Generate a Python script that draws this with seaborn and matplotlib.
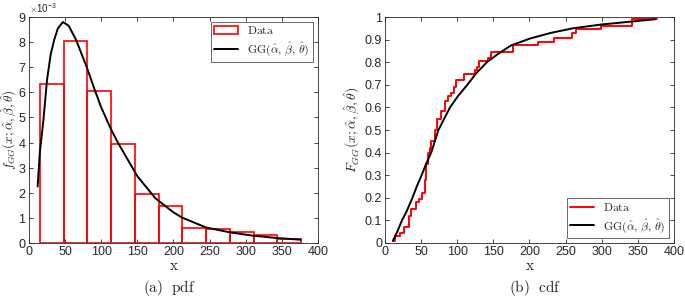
import numpy as np
import matplotlib
matplotlib.use('Agg')
import matplotlib.pyplot as plt
import seaborn as sns

# Histogram (pdf panel): bin edges and density heights (x 1e-3)
bin_edges = [15.1, 48.0, 80.8, 113.7, 146.6, 179.5, 212.3, 245.2, 278.1, 311.0, 343.8, 376.7]
bin_heights = [6.35, 8.04, 6.07, 3.93, 1.95, 1.49, 0.60, 0.55, 0.42, 0.31, 0.16]

# Fitted GG pdf curve (x 1e-3)
pdf_x = [12, 15, 20, 25, 30, 35, 40, 47, 55, 65, 80, 91, 100, 114, 124, 150,
         175, 200, 212, 245, 277, 310, 343, 376]
pdf_y = [2.25, 3.6, 4.9, 6.5, 7.5, 8.1, 8.55, 8.8, 8.65, 8.1, 7.0, 6.1, 5.4, 4.5,
         3.95, 2.66, 1.78, 1.22, 1.01, 0.62, 0.43, 0.29, 0.20, 0.13]

# Empirical cdf (step points)
ecdf_x = [11.5, 13.8, 20.6, 26.6, 33.0, 36.7, 43.6, 46.8, 51.4, 55.0, 57.0, 59.6,
          62.0, 63.5, 68.8, 72.5, 77.0, 82.6, 87.0, 91.7, 95.4, 98.6, 110.0, 124.0,
          127.5, 130.7, 143.0, 146.8, 176.6, 212.0, 234.0, 259.0, 263.8, 299.0,
          342.0, 376.0]
ecdf_y = [0.01, 0.03, 0.045, 0.07, 0.12, 0.15, 0.18, 0.195, 0.22, 0.28, 0.35, 0.40,
          0.42, 0.45, 0.50, 0.55, 0.585, 0.63, 0.65, 0.665, 0.69, 0.72, 0.75, 0.765,
          0.78, 0.805, 0.82, 0.845, 0.875, 0.89, 0.905, 0.93, 0.945, 0.96,
          0.99, 0.99]

# Fitted GG cdf curve
cdf_x = [11, 17, 23.5, 30, 38, 44, 50.7, 57, 64, 69, 74, 82, 90, 101, 114, 126,
         141, 158, 175, 201, 230, 260, 300, 342, 374]
cdf_y = [0.01, 0.05, 0.10, 0.14, 0.20, 0.25, 0.30, 0.35, 0.40, 0.45, 0.50, 0.55,
         0.60, 0.65, 0.70, 0.75, 0.80, 0.84, 0.875, 0.905, 0.93, 0.95, 0.967, 0.98, 0.99]

sns.set_theme(style='ticks')
plt.rcParams['font.family'] = ['Liberation Sans', 'DejaVu Sans']
plt.rcParams['mathtext.fontset'] = 'cm'
plt.rcParams['xtick.direction'] = 'in'
plt.rcParams['ytick.direction'] = 'in'
plt.rcParams['xtick.top'] = True
plt.rcParams['ytick.right'] = True
plt.rcParams['axes.edgecolor'] = '#262626'
plt.rcParams['axes.linewidth'] = 0.6

fig = plt.figure(figsize=(6.85, 3.01), dpi=100)
ax1 = fig.add_axes([0.0423, 0.1927, 0.4219, 0.7508])
ax2 = fig.add_axes([0.562, 0.1927, 0.4219, 0.7508])

data_label = r'$\mathrm{Data}$'
gg_label = r'$\mathrm{GG}(\hat{\alpha},\,\hat{\beta},\,\hat{\theta})$'

centers = [(bin_edges[i] + bin_edges[i + 1]) / 2 for i in range(len(bin_heights))]
sns.histplot(x=centers, weights=np.array(bin_heights) * 1e-3, bins=bin_edges,
             fill=False, element='bars', color='#ff0000', linewidth=1.2,
             ax=ax1, label=data_label)
sns.lineplot(x=pdf_x, y=np.array(pdf_y) * 1e-3, color='black', linewidth=1.4,
             ax=ax1, label=gg_label)
ax1.set_xlim(0, 400)
ax1.set_ylim(0, 9e-3)
ax1.set_xticks(range(0, 401, 50))
ax1.set_yticks(np.arange(0, 9.01e-3, 1e-3))
ax1.ticklabel_format(axis='y', style='sci', scilimits=(0, 0), useMathText=True)
ax1.yaxis.get_offset_text().set_fontsize(7)
ax1.set_xlabel(r'$\mathrm{x}$', fontsize=11, labelpad=1)
ax1.set_ylabel(r'$f_{GG}(x;\hat{\alpha},\hat{\beta},\hat{\theta})$', fontsize=9.5)
ax1.yaxis.set_label_coords(-0.036, 0.5)
h, l = ax1.get_legend_handles_labels()
order = [l.index(data_label), l.index(gg_label)]
leg1 = ax1.legend([h[i] for i in order], [l[i] for i in order], loc='upper right',
                  fontsize=8.5, frameon=True, fancybox=False, borderaxespad=0.4,
                  handlelength=2.0, borderpad=0.3, labelspacing=0.3)
leg1.get_frame().set_edgecolor('#262626')
leg1.get_frame().set_linewidth(0.6)

sns.lineplot(x=ecdf_x, y=ecdf_y, drawstyle='steps-post', color='#ff0000',
             linewidth=1.4, ax=ax2, label=data_label)
sns.lineplot(x=cdf_x, y=cdf_y, color='black', linewidth=1.4, ax=ax2, label=gg_label)
ax2.set_xlim(0, 400)
ax2.set_ylim(0, 1)
ax2.set_xticks(range(0, 401, 50))
ax2.set_yticks(np.round(np.arange(0, 1.01, 0.1), 1))
ax2.set_yticklabels(['0'] + [f'{v:.1f}' for v in np.arange(0.1, 0.95, 0.1)] + ['1'])
ax2.set_xlabel(r'$\mathrm{x}$', fontsize=11, labelpad=1)
ax2.set_ylabel(r'$F_{GG}(x;\hat{\alpha},\hat{\beta},\hat{\theta})$', fontsize=10, labelpad=2)
leg2 = ax2.legend(loc='lower right', fontsize=8.5, frameon=True, fancybox=False,
                  borderaxespad=0.4, handlelength=2.0, borderpad=0.3, labelspacing=0.3)
leg2.get_frame().set_edgecolor('#262626')
leg2.get_frame().set_linewidth(0.6)

for ax in (ax1, ax2):
    ax.tick_params(labelsize=9, length=3, width=0.6, pad=2)
    for s in ax.spines.values():
        s.set_visible(True)

fig.text(0.248, 0.03, r'$\mathrm{(a)\ \ pdf}$', ha='center', fontsize=11)
fig.text(0.781, 0.03, r'$\mathrm{(b)\ \ cdf}$', ha='center', fontsize=11)

fig.savefig('out.png', dpi=100)
